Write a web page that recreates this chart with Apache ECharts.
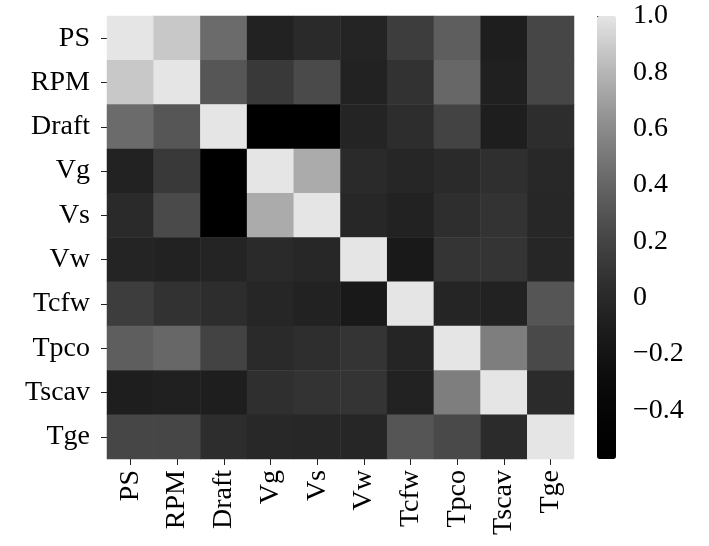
<!DOCTYPE html>
<html>
<head>
<meta charset="utf-8">
<script src="https://cdn.jsdelivr.net/npm/echarts@6/dist/echarts.min.js"></script>
<style>
html,body{margin:0;padding:0;background:#fff;}
#main{width:709px;height:546px;}
</style>
</head>
<body>
<div id="main"></div>
<script>
const categories = ['PS','RPM','Draft','Vg','Vs','Vw','Tcfw','Tpco','Tscav','Tge'];
const rowPS    = [1.00, 0.88, 0.43, -0.06, 0.01, -0.05, 0.15, 0.36, -0.10, 0.21];
const rowRPM   = [0.88, 1.00, 0.31, 0.12, 0.24, -0.06, 0.07, 0.41, -0.08, 0.21];
const rowDraft = [0.43, 0.31, 1.00, -0.573, -0.55, -0.05, 0.03, 0.19, -0.10, 0.03];
const rowVg    = [-0.06, 0.12, -0.573, 1.00, 0.75, 0.01, -0.03, 0.01, 0.05, -0.01];
const rowVs    = [0.01, 0.24, -0.55, 0.75, 1.00, -0.02, -0.06, 0.04, 0.08, -0.02];
const rowVw    = [-0.05, -0.06, -0.05, 0.01, -0.02, 1.00, -0.155, 0.085, 0.085, -0.03];
const rowTcfw  = [0.15, 0.07, 0.03, -0.03, -0.06, -0.155, 1.00, -0.035, -0.06, 0.305];
const rowTpco  = [0.36, 0.41, 0.19, 0.01, 0.04, 0.085, -0.035, 1.00, 0.535, 0.235];
const rowTscav = [-0.10, -0.08, -0.10, 0.05, 0.08, 0.085, -0.06, 0.535, 1.00, 0.02];
const rowTge   = [0.21, 0.21, 0.03, -0.01, -0.02, -0.03, 0.305, 0.235, 0.02, 1.00];
const colorbarTicks = [-0.4, -0.2, 0, 0.2, 0.4, 0.6, 0.8, 1.0];
const vmin = -0.573, vmax = 1.0;

const rows = [rowPS,rowRPM,rowDraft,rowVg,rowVs,rowVw,rowTcfw,rowTpco,rowTscav,rowTge];
const data = [];
rows.forEach((r, yi) => r.forEach((v, xi) => data.push([xi, yi, v])));

const FONT = 'Liberation Serif';
const grays = ['#000000','#020202','#070707','#0d0d0d','#161616','#202020','#2b2b2b','#383838','#464646','#565656','#676767','#797979','#8c8c8c','#a1a1a1','#b6b6b6','#cdcdcd','#e5e5e5'];

const chart = echarts.init(document.getElementById('main'), null, {renderer:'canvas'});
chart.setOption({
  animation: false,
  backgroundColor: '#ffffff',
  grid: [
    {left:107, top:16, width:467, height:443},
    {left:597, top:16, width:19, height:443}
  ],
  xAxis: [
    {type:'category', data:categories, gridIndex:0,
     axisLine:{show:false},
     axisTick:{show:true, alignWithLabel:true, length:6, lineStyle:{color:'#222', width:1}},
     axisLabel:{rotate:90, margin:11, fontFamily:FONT, fontSize:28, color:'#000'},
     splitLine:{show:false}},
    {type:'value', gridIndex:1, show:false}
  ],
  yAxis: [
    {type:'category', data:categories, inverse:true, gridIndex:0,
     axisLine:{show:false},
     axisTick:{show:true, alignWithLabel:true, length:6, lineStyle:{color:'#222', width:1}},
     axisLabel:{margin:17, fontFamily:FONT, fontSize:28, color:'#000'},
     splitLine:{show:false}},
    {type:'value', gridIndex:1, position:'right', min:vmin, max:vmax,
     axisLine:{show:false},
     splitLine:{show:false},
     axisTick:{show:true, length:6, customValues:colorbarTicks, lineStyle:{color:'#222'}},
     axisLabel:{margin:17, fontFamily:FONT, fontSize:28, color:'#000', customValues:colorbarTicks,
       formatter: v => {
         if (Math.abs(v) < 1e-9) return '0';
         const s = Math.abs(v).toFixed(1);
         return (v < 0 ? '\u2212' : '') + s;
       }}}
  ],
  visualMap: {
    type:'continuous', min:vmin, max:vmax, calculable:false, seriesIndex:0,
    orient:'vertical', left:597, top:16, itemWidth:19, itemHeight:443, padding:0,
    text:null, showLabel:false, hoverLink:false,
    inRange:{color:grays},
    textStyle:{fontSize:0}
  },
  series: [
    {type:'heatmap', data:data, xAxisIndex:0, yAxisIndex:0,
     itemStyle:{borderWidth:0}, emphasis:{disabled:true}},
    {type:'line', data:[], xAxisIndex:1, yAxisIndex:1}
  ]
});
</script>
</body>
</html>
